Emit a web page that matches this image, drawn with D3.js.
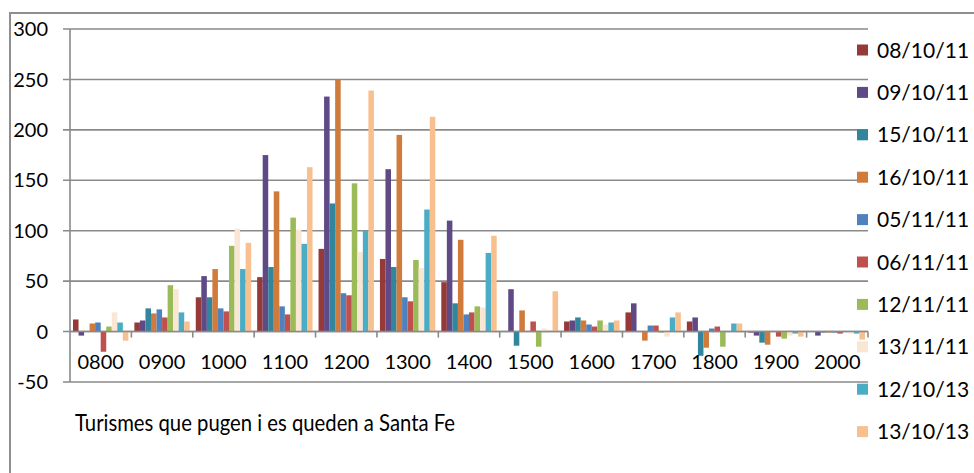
<!DOCTYPE html>
<html>
<head>
<meta charset="utf-8">
<script src="https://cdn.jsdelivr.net/npm/d3@7"></script>
<style>
  body { margin: 0; background: #fff; }
  svg { display: block; font-family: Lato, "Open Sans", sans-serif; }
</style>
</head>
<body>
<svg width="974" height="473"></svg>
<script>

// Hours on the x axis
var hours = ["0800", "0900", "1000", "1100", "1200", "1300", "1400", "1500", "1600", "1700", "1800", "1900", "2000"];

// One list per day
var d081011 = [12, 9, 34, 54, 82, 72, 49, 0, 10, 19, 10, -1, 0];
var d091011 = [-4, 11, 55, 175, 233, 161, 110, 42, 11, 28, 14, -4, -4];
var d151011 = [0, 23, 34, 64, 127, 64, 28, -14, 14, 0, -24, -11, -1];
var d161011 = [8, 18, 62, 139, 250, 195, 91, 21, 11, -9, -16, -13, -1];
var d051111 = [9, 22, 23, 25, 38, 34, 17, 0, 7, 6, 3, 0, -1];
var d061111 = [-20, 14, 20, 17, 36, 30, 19, 10, 5, 6, 5, -5, -2];
var d121111 = [5, 46, 85, 113, 147, 71, 25, -15, 11, -1, -15, -7, 0];
var d131111 = [19, 42, 102, 101, 79, 63, 24, 3, 7, -5, 0, -4, -2];
var d121013 = [9, 19, 62, 87, 100, 121, 78, 0, 9, 14, 8, -2, -2];
var d131013 = [-9, 10, 88, 163, 239, 213, 95, 40, 11, 19, 8, -5, -8];

// Legend names and colours
var dayNames = ["08/10/11", "09/10/11", "15/10/11", "16/10/11", "05/11/11", "06/11/11", "12/11/11", "13/11/11", "12/10/13", "13/10/13"];
var dayColors = ["#963a39", "#5f4a86", "#31859c", "#d07b3c", "#4f81bd", "#c0504d", "#9bbb59", "#fae6d4", "#4bacc6", "#f9c08f"];

// y axis ticks
var yTicks = [-50, 0, 50, 100, 150, 200, 250, 300];

var allDays = [d081011, d091011, d151011, d161011, d051111, d061111, d121111, d131111, d121013, d131013];

var svg = d3.select("svg");

// Chart area border
svg.append("rect")
  .attr("x", 10)
  .attr("y", 13)
  .attr("width", 990)
  .attr("height", 490)
  .attr("fill", "none")
  .attr("stroke", "#8f8f8f")
  .attr("stroke-width", 2);

// Scales
var x0 = d3.scaleBand()
  .domain(hours)
  .range([70, 868])
  .padding(0);

var x1 = d3.scaleBand()
  .domain(d3.range(dayNames.length))
  .range([3, x0.bandwidth() - 3])
  .padding(0);

var y = d3.scaleLinear()
  .domain([-50, 300])
  .range([382, 29]);

// Gridlines + y labels
var grid = svg.append("g");
grid.selectAll("line")
  .data(yTicks)
  .enter().append("line")
  .attr("x1", 63)
  .attr("x2", 868)
  .attr("y1", function(d) { return y(d); })
  .attr("y2", function(d) { return y(d); })
  .attr("stroke", "#8a8a8a")
  .attr("stroke-width", 1.6);

grid.selectAll("text")
  .data(yTicks)
  .enter().append("text")
  .attr("x", 48)
  .attr("y", function(d) { return y(d); })
  .attr("dy", "0.36em")
  .attr("text-anchor", "end")
  .attr("font-size", 20)
  .attr("fill", "#000")
  .text(function(d) { return d; });

// y axis line
svg.append("line")
  .attr("x1", 70).attr("x2", 70)
  .attr("y1", y(300)).attr("y2", y(-50))
  .attr("stroke", "#8a8a8a")
  .attr("stroke-width", 1.6);

// Bars
var groups = svg.append("g")
  .selectAll("g")
  .data(hours)
  .enter().append("g")
  .attr("transform", function(d) { return "translate(" + x0(d) + ",0)"; });

groups.selectAll("rect")
  .data(function(h, i) {
    return allDays.map(function(vals, k) { return { k: k, v: vals[i] }; });
  })
  .enter().append("rect")
  .attr("x", function(d) { return x1(d.k); })
  .attr("width", x1.bandwidth())
  .attr("y", function(d) { return y(Math.max(0, d.v)); })
  .attr("height", function(d) { return Math.abs(y(d.v) - y(0)); })
  .attr("fill", function(d) { return dayColors[d.k]; });

// x axis at zero with ticks between the hours
var xAxis = svg.append("g")
  .attr("transform", "translate(0," + y(0) + ")");

xAxis.append("line")
  .attr("x1", 70).attr("x2", 868)
  .attr("stroke", "#8a8a8a")
  .attr("stroke-width", 1.6);

xAxis.selectAll(".tk")
  .data(hours.slice(1).concat(["end"]))
  .enter().append("line")
  .attr("class", "tk")
  .attr("x1", function(d) { return d == "end" ? 868 : x0(d); })
  .attr("x2", function(d) { return d == "end" ? 868 : x0(d); })
  .attr("y1", 0)
  .attr("y2", 6)
  .attr("stroke", "#8a8a8a")
  .attr("stroke-width", 1.6);

xAxis.selectAll("text")
  .data(hours)
  .enter().append("text")
  .attr("x", function(d) { return x0(d) + x0.bandwidth() / 2; })
  .attr("y", 30)
  .attr("dy", "0.36em")
  .attr("text-anchor", "middle")
  .attr("font-size", 20)
  .attr("fill", "#000")
  .text(function(d) { return d; });

// Legend (no background, sits over the plot)
var legend = svg.append("g")
  .selectAll("g")
  .data(dayNames)
  .enter().append("g")
  .attr("transform", function(d, i) { return "translate(857," + (50 + i * 42.4) + ")"; });

legend.append("rect")
  .attr("x", 0)
  .attr("y", -5.5)
  .attr("width", 11)
  .attr("height", 11)
  .attr("fill", function(d, i) { return dayColors[i]; });

legend.append("text")
  .attr("x", 20)
  .attr("dy", "0.36em")
  .attr("font-size", 21)
  .attr("fill", "#000")
  .text(function(d) { return d; });

// Title at the bottom
svg.append("text")
  .attr("x", 75)
  .attr("y", 431)
  .attr("font-size", 23)
  .attr("textLength", 380)
  .attr("lengthAdjust", "spacingAndGlyphs")
  .attr("fill", "#000")
  .text("Turismes que pugen i es queden a Santa Fe");

</script>
</body>
</html>
